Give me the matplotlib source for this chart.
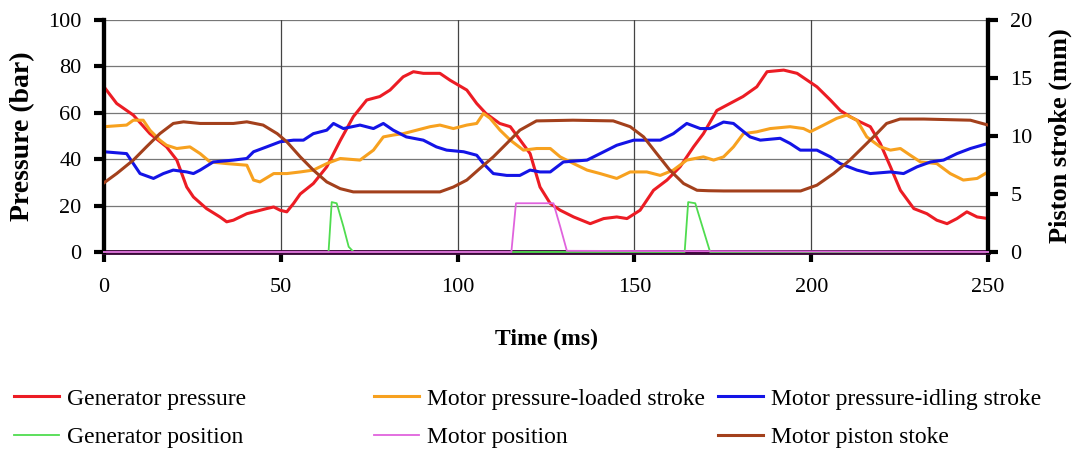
import matplotlib.pyplot as plt
from matplotlib.legend import Legend

plt.rcParams['font.family'] = ['Liberation Serif', 'DejaVu Serif']

# Generator pressure (bar)
gen_p_t = [0, 3.6, 8.3, 13, 17.7, 20.6, 23.4, 25.3, 29, 32.8, 34.7, 36.6, 40.4, 46, 48, 49.8, 51.7,
           53.6, 55.5, 59.2, 63, 66.8, 70.5, 74.3, 78, 80.9, 84.6, 87.5, 90.3, 95, 97.9, 102.6, 105.4,
           108, 111.9, 114.9, 117.7, 120.5, 123.3, 126.2, 129, 132.8, 137.5, 141.3, 145, 147.9, 151.6,
           155.4, 159.2, 162.9, 166.7, 169.5, 173.3, 177, 180.7, 184.6, 187.5, 192.2, 196, 201.6, 205.4,
           208.2, 211, 213.9, 216.7, 219.5, 222.4, 225.2, 229, 232.7, 235.5, 238.4, 241.2, 244, 246.9, 250]
gen_p = [71.2, 64, 59, 51, 45.3, 39.6, 28, 23.7, 18.7, 15.1, 13, 13.7, 16.5, 18.7, 19.4, 18, 17.3,
         20.9, 25, 29.5, 36.7, 48, 58.3, 65.5, 67, 69.8, 75.5, 77.7, 77, 77, 74, 69.8, 64,
         59.7, 55.4, 54, 48.2, 42.4, 28, 20.9, 18, 15.1, 12.2, 14.4, 15.1, 14.4, 18,
         26.6, 31, 36.7, 45.3, 51, 61, 64, 67, 71.2, 77.7, 78.4, 77, 71.2, 65.5,
         61, 58.3, 56, 54, 46.8, 36.7, 26.6, 18.7, 16.5, 13.7, 12.2, 14.4, 17.3, 15.1, 14.4]

# Motor pressure - loaded stroke (bar)
load_t = [0, 6.4, 8.3, 11.1, 13, 15.8, 17.7, 20.6, 24.3, 27.2, 30, 34.7, 40.4, 42.3, 44.1, 48, 51.7,
          55.5, 59.2, 63, 66.8, 72.4, 76.2, 79, 81.8, 84.6, 88.4, 92.2, 95, 98.8, 102.6, 105.4, 107.3,
          109.2, 112, 114.9, 118.6, 122.4, 126.2, 129, 132.8, 136.6, 140.3, 145, 148.8, 153.5, 157.3,
          161, 164.8, 169.5, 172.4, 175.2, 178, 180.8, 184.6, 188.4, 194, 197.8, 199.7, 203.5, 207.2,
          210, 212.9, 215.7, 219.5, 222.4, 225.2, 228, 230.9, 235.5, 239.3, 243, 246.9, 250]
load_p = [54, 54.7, 56.8, 56.8, 52.5, 48.2, 46, 44.6, 45.3, 42.4, 38.8, 38.1, 37.4, 31, 30.2, 33.8, 33.8,
          34.5, 35.3, 38.1, 40.3, 39.6, 43.9, 49.6, 50.4, 51, 52.5, 54, 54.7, 53.2, 54.7, 55.4, 59.7,
          57.6, 52.5, 48.2, 43.9, 44.6, 44.6, 41, 38.1, 35.3, 33.8, 31.7, 34.5, 34.5, 33,
          35.3, 39.6, 41, 39.6, 41, 45.3, 51, 51.8, 53.2, 54, 53.2, 51.8, 54.7, 57.6,
          59, 56.8, 49.6, 45.3, 43.9, 44.6, 41.7, 38.8, 38.1, 33.8, 31, 31.7, 34.5]

# Motor pressure - idling stroke (bar)
idle_t = [0, 6.4, 8.3, 10.2, 14, 16.8, 19.6, 23.4, 25.3, 27.2, 30.9, 36.6, 40.4, 42.3, 46, 49.8, 53.6,
          56.4, 59.2, 63, 64.9, 67.7, 72.4, 76.2, 79, 81.8, 85.5, 90.3, 94, 96.9, 101.7, 105.4, 107.3,
          110.1, 113.9, 117.6, 120.5, 123.3, 126.2, 129.9, 136.6, 140.3, 145, 149.8, 157.3, 161, 164.8,
          168.6, 171.4, 175.2, 178, 182.7, 185.6, 191.2, 194, 196.9, 201.6, 205.4, 208.2, 212.9, 216.7,
          222.4, 226.1, 229.9, 233.7, 237.4, 241.2, 245, 250]
idle_p = [43.2, 42.4, 38.1, 33.8, 31.7, 33.8, 35.3, 34.5, 33.8, 35.3, 38.8, 39.6, 40.3, 43.2, 45.3, 47.5, 48.2,
          48.2, 51, 52.5, 55.4, 53.2, 54.7, 53.2, 55.4, 52.5, 49.6, 48.2, 45.3, 43.9, 43.2, 41.7, 38.1,
          33.8, 33, 33, 35.3, 34.5, 34.5, 38.8, 39.6, 42.4, 46, 48.2, 48.2, 51, 55.4,
          53.2, 53.2, 56, 55.4, 49.6, 48.2, 49, 46.8, 43.9, 43.9, 41, 38.1, 35.3, 33.8,
          34.5, 33.8, 36.7, 38.8, 39.6, 42.4, 44.6, 46.8]

# Generator position (mm)
gen_x_t = [0, 63.5, 64.4, 65.8, 67.7, 69.2, 70.6, 164.2, 165.2, 167.2, 169.5, 171.4, 250]
gen_x = [0, 0, 4.3, 4.2, 2.2, 0.45, 0, 0, 4.3, 4.2, 1.9, 0, 0]

# Motor position (mm)
mot_x_t = [0, 115.2, 116.5, 127.1, 129, 130.9, 250]
mot_x = [0, 0, 4.2, 4.2, 2.2, 0.1, 0]

# Motor piston stroke (mm)
stroke_t = [0, 3.6, 8.3, 12, 15.8, 19.6, 22.5, 27.2, 36.6, 40.4, 45, 49, 51.7, 55.5, 59.2, 63, 66.8,
            70.5, 76.2, 95, 98.8, 102.6, 106.3, 110.1, 113.9, 117.6, 122.3, 132.6, 144, 148.8, 152.6,
            156.3, 160, 163.9, 167.7, 171, 175.2, 197, 201.6, 206.3, 210.9, 214.7, 218.5, 221.3, 225.1,
            231.8, 245, 250]
stroke = [5.96, 6.76, 7.92, 9.06, 10.2, 11.08, 11.22, 11.08, 11.08, 11.22, 10.94, 10.2, 9.5, 8.2, 7.06, 6.04, 5.46,
          5.18, 5.18, 5.18, 5.6, 6.2, 7.2, 8.2, 9.36, 10.5, 11.3, 11.36, 11.3, 10.8, 9.92,
          8.48, 7.06, 5.9, 5.32, 5.28, 5.26, 5.26, 5.76, 6.76, 7.92, 9.06, 10.2, 11.08, 11.46,
          11.46, 11.36, 10.94]

fig = plt.figure(figsize=(10.74, 4.49), dpi=100)
ax = fig.add_axes([0.0968, 0.4388, 0.8232, 0.5167])
ax2 = ax.twinx()

ax.set_xlim(0, 250)
ax.set_ylim(0, 100)
ax2.set_ylim(0, 20)

ax.set_xticks([0, 50, 100, 150, 200, 250])
ax.set_yticks([0, 20, 40, 60, 80, 100])
ax2.set_yticks([0, 5, 10, 15, 20])
for v in [20, 40, 60, 80, 100]:
    ax.axhline(v, color='#777777', lw=0.9, zorder=0)
for v in [50, 100, 150, 200]:
    ax.axvline(v, color='#444444', lw=0.9, zorder=0)

# baseline where both position traces sit at zero
ax2.axhline(0, color='#3a0838', lw=3.5, zorder=1, clip_on=False)

l_gp, = ax.plot(gen_p_t, gen_p, color='#ec1c24', lw=2.2, label='Generator pressure', zorder=3)
l_ld, = ax.plot(load_t, load_p, color='#f7a11f', lw=2.2, label='Motor pressure-loaded stroke', zorder=3)
l_id, = ax.plot(idle_t, idle_p, color='#1414e6', lw=2.2, label='Motor pressure-idling stroke', zorder=3)
l_gx, = ax2.plot(gen_x_t, gen_x, color='#4fdc4f', lw=1.3, label='Generator position', zorder=3, clip_on=False)
l_mx, = ax2.plot(mot_x_t, mot_x, color='#e063dd', lw=1.3, label='Motor position', zorder=3.5, clip_on=False)
l_st, = ax2.plot(stroke_t, stroke, color='#a3401c', lw=2.2, label='Motor piston stoke', zorder=3)

for a in (ax, ax2):
    a.spines['top'].set_visible(False)
    a.spines['left'].set_linewidth(3)
    a.spines['right'].set_linewidth(3)
    a.spines['bottom'].set_linewidth(1.5)
ax2.spines['bottom'].set_visible(False)

ax.tick_params(axis='y', direction='out', length=7, width=3, pad=9, labelsize=16)
ax.tick_params(axis='x', direction='out', length=7, width=3, pad=12, labelsize=16)
ax2.tick_params(axis='y', direction='out', length=7, width=3, pad=9, labelsize=16)

ax.set_xlabel('Time (ms)', fontsize=17, fontweight='bold')
ax.xaxis.set_label_coords(0.5, -0.33)
ax.set_ylabel('Pressure (bar)', fontsize=20, fontweight='bold')
ax.yaxis.set_label_coords(-0.078, 0.5)
ax2.set_ylabel('Piston stroke (mm)', fontsize=19, fontweight='bold')
ax2.yaxis.set_label_coords(1.068, 0.5)

columns = [([l_gp, l_gx], 0.002), ([l_ld, l_mx], 0.337), ([l_id, l_st], 0.658)]
for handles, x0 in columns:
    leg = Legend(fig, handles, [h.get_label() for h in handles], loc='upper left',
                 bbox_to_anchor=(x0, 0.162), bbox_transform=fig.transFigure,
                 frameon=False, fontsize=17, handlelength=1.9, handletextpad=0.34,
                 labelspacing=0.72, borderpad=0)
    fig.add_artist(leg)

fig.savefig('out.png', dpi=100)
